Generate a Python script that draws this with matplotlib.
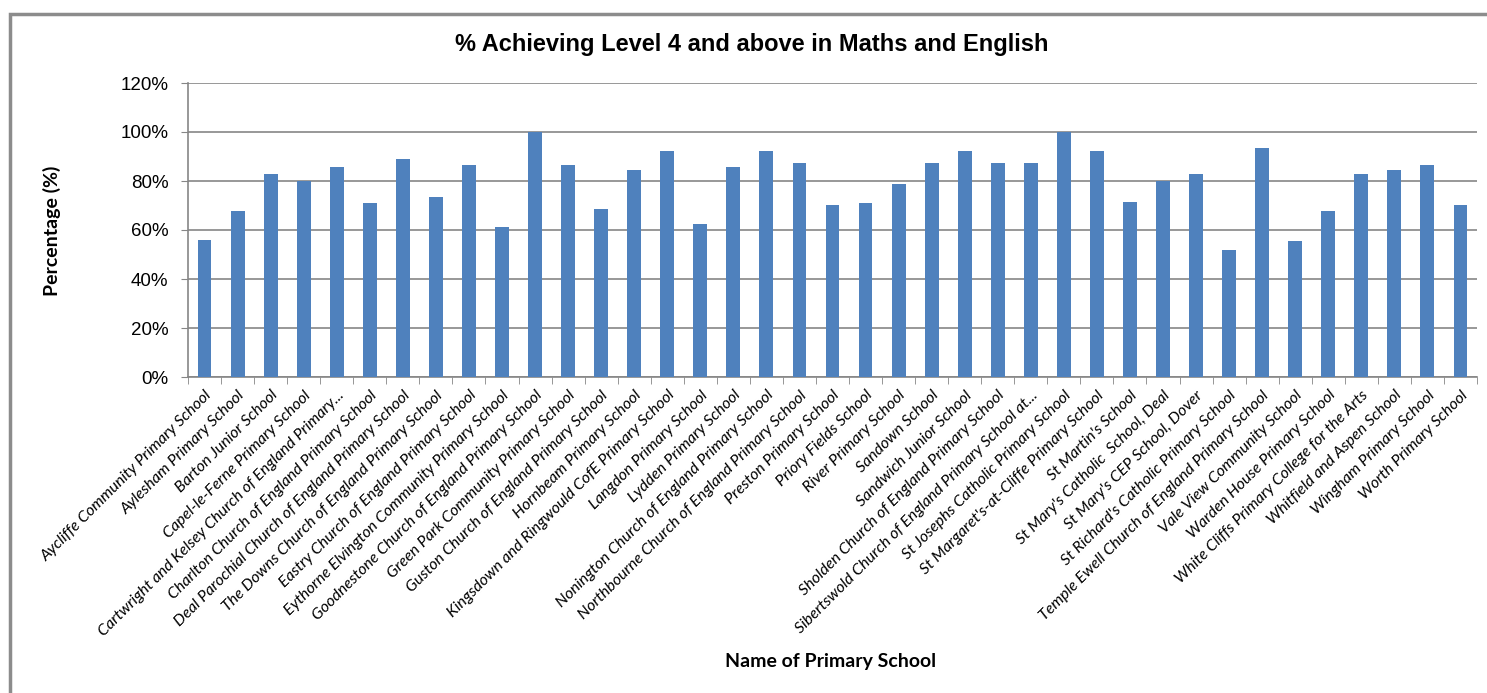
import matplotlib.pyplot as plt
import numpy as np
from matplotlib.patches import Rectangle

schools = [
    'Aycliffe Community Primary School',
    'Aylesham Primary School',
    'Barton Junior School',
    'Capel-le-Ferne Primary School',
    'Cartwright and Kelsey Church of England Primary...',
    'Charlton Church of England Primary School',
    'Deal Parochial Church of England Primary School',
    'The Downs Church of England Primary School',
    'Eastry Church of England Primary School',
    'Eythorne Elvington Community Primary School',
    'Goodnestone Church of England Primary School',
    'Green Park Community Primary School',
    'Guston Church of England Primary School',
    'Hornbeam Primary School',
    'Kingsdown and Ringwould CofE Primary School',
    'Langdon Primary School',
    'Lydden Primary School',
    'Nonington Church of England Primary School',
    'Northbourne Church of England Primary School',
    'Preston Primary School',
    'Priory Fields School',
    'River Primary School',
    'Sandown School',
    'Sandwich Junior School',
    'Sholden Church of England Primary School',
    'Sibertswold Church of England Primary School at...',
    'St Josephs Catholic Primary School',
    "St Margaret's-at-Cliffe Primary School",
    "St Martin's School",
    "St Mary's Catholic  School, Deal",
    "St Mary's CEP School, Dover",
    "St Richard's Catholic Primary School",
    'Temple Ewell Church of England Primary School',
    'Vale View Community School',
    'Warden House Primary School',
    'White Cliffs Primary College for the Arts',
    'Whitfield and Aspen School',
    'Wingham Primary School',
    'Worth Primary School',
]

pct_achieving = [
    55.8, 67.9, 83.0, 80.0, 85.9, 71.2, 89.1, 73.6, 86.7, 61.4,
    100.0, 86.7, 68.7, 84.6, 92.4, 62.6, 85.9, 92.4, 87.5, 70.3,
    71.2, 78.9, 87.5, 92.4, 87.5, 87.5, 100.0, 92.4, 71.6, 80.0,
    83.0, 52.0, 93.6, 55.6, 67.9, 83.0, 84.6, 86.7, 70.3,
]

y_ticks = [0, 20, 40, 60, 80, 100, 120]

bar_color = '#4F81BD'
grid_color = '#868686'

fig = plt.figure(figsize=(14.87, 6.93), dpi=100)
ax = fig.add_axes([188/1487, 1 - 377/693, (1477 - 188)/1487, (377 - 83)/693])

# chart area border (Excel style)
fig.patches.append(Rectangle((10/1487, -0.1), 1.2, 1 - 14/693 + 0.1,
                             transform=fig.transFigure, fill=False,
                             edgecolor='#8c8c8c', linewidth=2.5, zorder=0))

x = np.arange(len(schools))
ax.bar(x, pct_achieving, width=0.42, color=bar_color, zorder=3)

ax.set_xlim(-0.5, len(schools) - 0.5)
ax.set_ylim(0, 120)
ax.set_yticks(y_ticks)
ax.set_yticklabels([f'{t}%' for t in y_ticks], fontsize=13.5, family='Liberation Sans')
ax.yaxis.grid(True, color=grid_color, linewidth=1.2, zorder=0)

# category labels, ticks on the category boundaries
ax.set_xticks(x)
ax.set_xticklabels(schools, rotation=45, ha='right', rotation_mode='anchor',
                   fontsize=11.5, style='italic', family='Lato')
ax.tick_params(axis='x', length=0, pad=8)
ax.set_xticks(np.arange(-0.5, len(schools), 1), minor=True)
ax.tick_params(axis='x', which='minor', length=5, color=grid_color, direction='out')
ax.tick_params(axis='y', length=5, color=grid_color, pad=9)

for side in ['top', 'right']:
    ax.spines[side].set_visible(False)
for side in ['left', 'bottom']:
    ax.spines[side].set_color(grid_color)
    ax.spines[side].set_linewidth(1.2)

fig.text(752/1487, 1 - 45/693,
         '% Achieving Level 4 and above in Maths and English',
         ha='center', va='center', fontsize=17, fontweight='bold',
         family='Liberation Sans')
fig.text(52/1487, 1 - 231/693, 'Percentage (%)', rotation=90,
         ha='center', va='center', fontsize=14, fontweight='bold', family='Lato')
fig.text(831/1487, 1 - 662/693, 'Name of Primary School',
         ha='center', va='center', fontsize=14, fontweight='bold', family='Lato')

fig.savefig('out.png', dpi=100)
